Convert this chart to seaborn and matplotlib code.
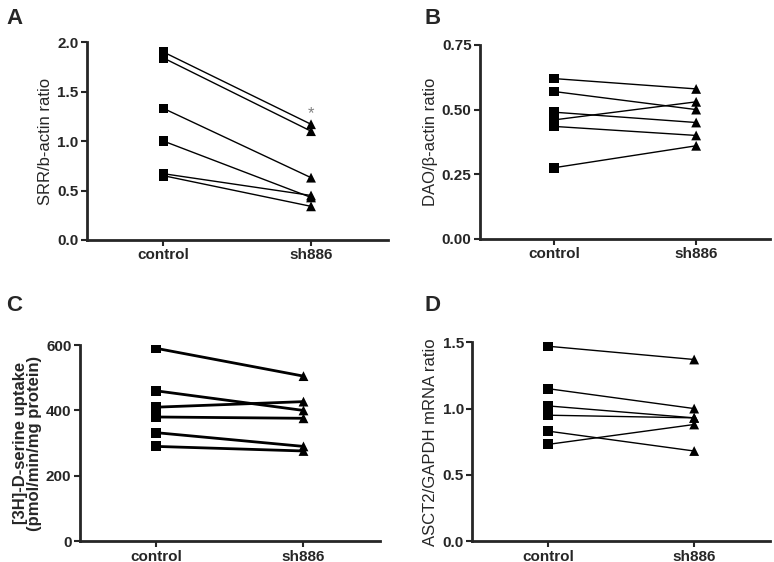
import numpy as np
import matplotlib
matplotlib.use("Agg")
import matplotlib.pyplot as plt
import pandas as pd
import seaborn as sns

sns.set_style("ticks")
plt.rcParams['font.family'] = ['Liberation Sans', 'DejaVu Sans']

groups = ['control', 'sh886']

# panel A: SRR/b-actin ratio
a_control = [1.90, 1.84, 1.33, 1.00, 0.67, 0.65]
a_sh886 = [1.17, 1.10, 0.63, 0.43, 0.45, 0.34]
# panel B: DAO/beta-actin ratio
b_control = [0.62, 0.57, 0.49, 0.46, 0.435, 0.275]
b_sh886 = [0.58, 0.50, 0.45, 0.53, 0.40, 0.36]
# panel C: [3H]-D-serine uptake
c_control = [590, 460, 410, 380, 332, 290]
c_sh886 = [505, 400, 427, 376, 290, 276]
# panel D: ASCT2/GAPDH mRNA ratio
d_control = [1.47, 1.15, 1.02, 0.95, 0.83, 0.73]
d_sh886 = [1.37, 1.00, 0.93, 0.93, 0.68, 0.88]


def paired_frame(ctrl, sh):
    rows = []
    for i, (c, s) in enumerate(zip(ctrl, sh)):
        rows.append({'pair': i, 'group': 'control', 'value': c})
        rows.append({'pair': i, 'group': 'sh886', 'value': s})
    return pd.DataFrame(rows)


def plot_panel(ax, ctrl, sh, ylim, yticks, yfmt, ylabel, lw, label_bold=False):
    df = paired_frame(ctrl, sh)
    sns.lineplot(data=df, x='group', y='value', units='pair', estimator=None,
                 color='black', linewidth=lw, ax=ax, legend=False)
    sns.scatterplot(data=df, x='group', y='value', style='group',
                    markers={'control': 's', 'sh886': '^'}, color='black',
                    s=50, edgecolor='black', linewidth=0, ax=ax, legend=False, zorder=3)
    ax.set_xlim(-0.52, 1.52)
    ax.set_ylim(*ylim)
    ax.set_yticks(yticks)
    ax.set_yticklabels([yfmt.format(t) for t in yticks], fontsize=11, fontweight='bold')
    ax.set_xticks([0, 1])
    ax.set_xticklabels(groups, fontsize=11, fontweight='bold')
    ax.set_xlabel('')
    ax.set_ylabel(ylabel, fontsize=12, fontweight='bold' if label_bold else 'normal',
                  labelpad=3)
    sns.despine(ax=ax)
    for sp in ['left', 'bottom']:
        ax.spines[sp].set_linewidth(2)
    ax.tick_params(width=1.5, length=4, pad=2)


fig = plt.figure(figsize=(7.74, 5.62), dpi=100)
axA = fig.add_axes([0.112, 0.573, 0.389, 0.352])
axB = fig.add_axes([0.620, 0.575, 0.375, 0.345])
axC = fig.add_axes([0.103, 0.037, 0.388, 0.349])
axD = fig.add_axes([0.610, 0.037, 0.385, 0.354])

plot_panel(axA, a_control, a_sh886, (0, 2.0), [0.0, 0.5, 1.0, 1.5, 2.0], '{:.1f}',
           'SRR/b-actin ratio', 1.0)
axA.text(1, 1.28, '*', ha='center', va='center', color='gray', fontsize=12)
plot_panel(axB, b_control, b_sh886, (0, 0.75), [0.0, 0.25, 0.5, 0.75], '{:.2f}',
           'DAO/\u03b2-actin ratio', 1.0)
plot_panel(axC, c_control, c_sh886, (0, 600), [0, 200, 400, 600], '{:.0f}',
           '[3H]-D-serine uptake\n(pmol/min/mg protein)', 2.0, label_bold=True)
axC.yaxis.label.set_linespacing(0.9)
plot_panel(axD, d_control, d_sh886, (0, 1.5), [0.0, 0.5, 1.0, 1.5], '{:.1f}',
           'ASCT2/GAPDH mRNA ratio', 1.0)

for letter, x, y in [('A', 0.008, 0.985), ('B', 0.548, 0.985),
                     ('C', 0.008, 0.475), ('D', 0.548, 0.475)]:
    fig.text(x, y, letter, fontsize=16, fontweight='bold', ha='left', va='top')

fig.savefig('out.png', dpi=100)
